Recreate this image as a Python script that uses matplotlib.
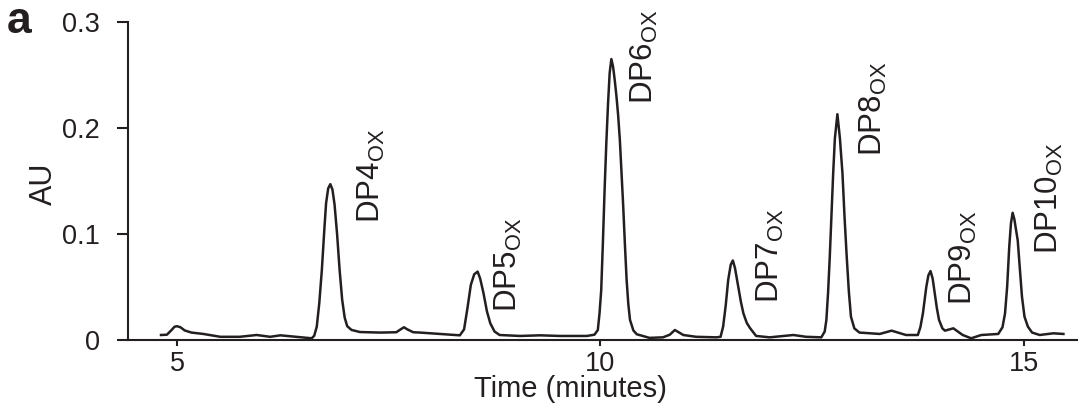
"""HPLC trace of oxidised oligosaccharides (panel a)."""
import matplotlib
matplotlib.use("Agg")
import matplotlib.pyplot as plt

plt.rcParams["font.family"] = ["Liberation Sans", "DejaVu Sans"]
plt.rcParams["mathtext.fontset"] = "custom"
plt.rcParams["mathtext.rm"] = "Liberation Sans"

INK = "#231f20"

# trace, minutes vs absorbance
TIME = [4.81, 4.88, 4.93, 4.97, 5.00, 5.04, 5.09, 5.17, 5.31, 5.51, 5.74, 5.94,
        6.10, 6.22, 6.41, 6.59, 6.62, 6.65, 6.68, 6.71, 6.74, 6.76, 6.785,
        6.81, 6.835, 6.86, 6.89, 6.92, 6.95, 6.98, 7.01, 7.06, 7.16, 7.40,
        7.59, 7.64, 7.68, 7.72, 7.79, 7.87, 8.10, 8.34, 8.39, 8.43, 8.47, 8.51,
        8.55, 8.58, 8.62, 8.66, 8.70, 8.75, 8.81, 9.05, 9.29, 9.52, 9.84, 9.93,
        9.97, 9.99, 10.01, 10.03, 10.05, 10.07, 10.09, 10.11, 10.13, 10.15,
        10.17, 10.19, 10.21, 10.23, 10.25, 10.27, 10.29, 10.31, 10.33, 10.35,
        10.39, 10.43, 10.58, 10.74, 10.82, 10.88, 10.93, 10.98, 11.13, 11.37,
        11.42, 11.45, 11.48, 11.51, 11.54, 11.565, 11.59, 11.63, 11.66, 11.69,
        11.73, 11.77, 11.84, 12.00, 12.28, 12.43, 12.61, 12.65, 12.67, 12.69,
        12.71, 12.73, 12.75, 12.77, 12.80, 12.83, 12.86, 12.885, 12.91, 12.935,
        12.96, 13.00, 13.06, 13.30, 13.44, 13.61, 13.75, 13.78, 13.81, 13.85,
        13.875, 13.90, 13.925, 13.95, 13.975, 14.00, 14.04, 14.07, 14.17,
        14.28, 14.38, 14.50, 14.70, 14.75, 14.78, 14.805, 14.83, 14.85, 14.87,
        14.89, 14.91, 14.93, 14.955, 14.98, 15.01, 15.05, 15.10, 15.19, 15.35,
        15.47]
AU = [0.0047, 0.005, 0.009, 0.0125, 0.013, 0.012, 0.009, 0.007, 0.0057, 0.003,
      0.003, 0.0047, 0.003, 0.0044, 0.003, 0.0016, 0.004, 0.0126, 0.035, 0.066,
      0.105, 0.129, 0.143, 0.147, 0.142, 0.128, 0.100, 0.066, 0.038, 0.021,
      0.013, 0.0095, 0.0075, 0.007, 0.0073, 0.010, 0.012, 0.010, 0.0073, 0.007,
      0.0057, 0.0044, 0.010, 0.030, 0.052, 0.062, 0.0645, 0.058, 0.044, 0.027,
      0.0157, 0.008, 0.0047, 0.0038, 0.0044, 0.0038, 0.0038, 0.005, 0.0094,
      0.025, 0.047, 0.092, 0.1415, 0.185, 0.222, 0.252, 0.265, 0.258, 0.245,
      0.230, 0.212, 0.189, 0.158, 0.126, 0.090, 0.057, 0.034, 0.019, 0.009,
      0.0054, 0.002, 0.0025, 0.005, 0.0094, 0.007, 0.0047, 0.003, 0.0025, 0.003,
      0.0126, 0.032, 0.0566, 0.071, 0.075, 0.068, 0.050, 0.036, 0.025, 0.016,
      0.011, 0.0038, 0.0025, 0.0047, 0.003, 0.0025, 0.008, 0.019, 0.045,
      0.0786, 0.118, 0.157, 0.190, 0.213, 0.190, 0.157, 0.115, 0.0786, 0.046,
      0.022, 0.011, 0.007, 0.0057, 0.0088, 0.0047, 0.0047, 0.012, 0.025, 0.050,
      0.061, 0.065, 0.058, 0.044, 0.030, 0.019, 0.011, 0.0088, 0.011, 0.0047,
      0.0016, 0.0047, 0.0057, 0.012, 0.025, 0.050, 0.088, 0.110, 0.120, 0.114,
      0.104, 0.094, 0.068, 0.041, 0.022, 0.0126, 0.007, 0.0047, 0.0063, 0.0057]

PEAK_NAMES = ["DP4", "DP5", "DP6", "DP7", "DP8", "DP9", "DP10"]
LABEL_TIME = [7.40, 9.01, 10.62, 12.11, 13.32, 14.39, 15.41]
LABEL_AU = [0.110, 0.026, 0.223, 0.035, 0.174, 0.033, 0.081]

Y_TICKS = [0, 0.1, 0.2, 0.3]
Y_TICK_LABELS = ["0", "0.1", "0.2", "0.3"]
X_TICKS = [5, 10, 15]

fig = plt.figure(figsize=(10.8, 4.08), dpi=100)
ax = fig.add_axes([0.1185, 0.1667, 0.8787, 0.7794])

ax.plot(TIME, AU, color=INK, lw=1.8, solid_joinstyle="round")

for name, t, v in zip(PEAK_NAMES, LABEL_TIME, LABEL_AU):
    ax.text(t, v, name + r"$_{\mathregular{OX}}$", rotation=90,
            rotation_mode="anchor", ha="left", va="baseline",
            fontsize=22.5, color=INK)

ax.set_xlim(4.42, 15.63)
ax.set_ylim(0, 0.3)
ax.set_xticks(X_TICKS)
ax.set_yticks(Y_TICKS)
ax.set_yticklabels(Y_TICK_LABELS)

for side in ("top", "right"):
    ax.spines[side].set_visible(False)
for side in ("left", "bottom"):
    ax.spines[side].set_linewidth(1.5)
    ax.spines[side].set_color(INK)

ax.tick_params(axis="y", length=8, width=1.5, pad=12, labelsize=19.5,
               colors=INK)
ax.tick_params(axis="x", length=4, width=1.5, pad=4, labelsize=19.5,
               colors=INK)

ax.set_xlabel("Time (minutes)", fontsize=21, color=INK)
ax.xaxis.label.set_va("baseline")
ax.xaxis.set_label_coords(0.466, -0.179)
ax.set_ylabel("AU", fontsize=22, color=INK)
ax.yaxis.set_label_coords(-0.073, 0.49)

fig.text(0.006, 0.919, "a", fontsize=32, weight="bold", color=INK,
         va="baseline", ha="left")

fig.savefig("out.png", dpi=100)
